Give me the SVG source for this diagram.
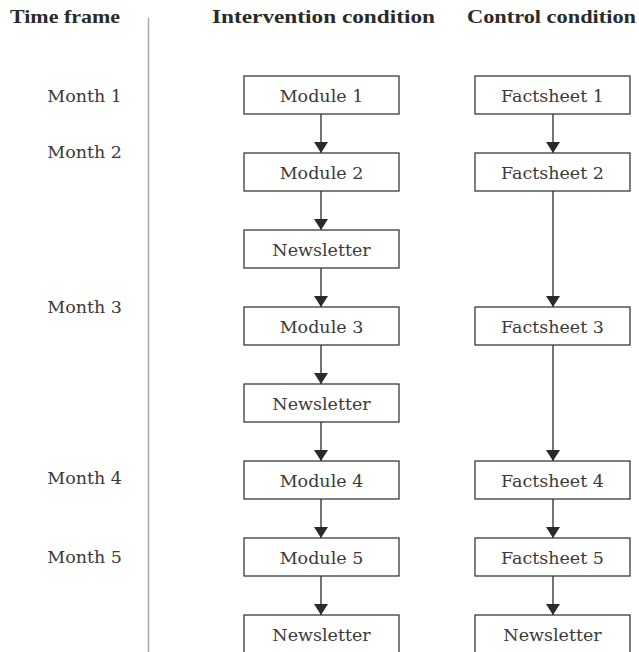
<svg xmlns="http://www.w3.org/2000/svg" width="639" height="652" viewBox="0 0 639 652">
<style>
.hdr{font-family:"Liberation Serif","DejaVu Serif",serif;font-weight:bold;font-size:19.5px;fill:#2a2a2a}
.lbl{font-family:"DejaVu Serif","Liberation Serif",serif;font-size:17.5px;fill:#3a3a3a}
.box rect{fill:#fff;stroke:#3a3a3a;stroke-width:1.3}
.box text{text-anchor:middle}
.mon{text-anchor:end}
.conn line{stroke:#2a2a2a;stroke-width:1.3;marker-end:url(#ah)}
</style>
<defs>
<marker id="ah" markerUnits="userSpaceOnUse" viewBox="0 0 11 14" markerWidth="11" markerHeight="14" refX="11" refY="7" orient="auto">
<path d="M0,0 L11,7 L0,14 z" fill="#2a2a2a"/>
</marker>
</defs>
<rect width="639" height="652" fill="#fff"/>
<g id="headers">
<text class="hdr" x="10" y="23" textLength="110" lengthAdjust="spacingAndGlyphs">Time frame</text>
<text class="hdr" x="212" y="23" textLength="223" lengthAdjust="spacingAndGlyphs">Intervention condition</text>
<text class="hdr" x="467" y="23" textLength="169" lengthAdjust="spacingAndGlyphs">Control condition</text>
</g>
<line id="divider" x1="148.5" y1="18" x2="148.5" y2="652" stroke="#aaaaaa" stroke-width="1.5"/>
<g id="months">
<text class="lbl mon" x="122" y="102">Month 1</text>
<text class="lbl mon" x="122" y="158">Month 2</text>
<text class="lbl mon" x="122" y="313">Month 3</text>
<text class="lbl mon" x="122" y="484">Month 4</text>
<text class="lbl mon" x="122" y="563">Month 5</text>
</g>
<g id="connectors" class="conn">
<line x1="321" y1="114" x2="321" y2="153"/>
<line x1="321" y1="191" x2="321" y2="230"/>
<line x1="321" y1="268" x2="321" y2="307"/>
<line x1="321" y1="345" x2="321" y2="384"/>
<line x1="321" y1="422" x2="321" y2="461"/>
<line x1="321" y1="499" x2="321" y2="538"/>
<line x1="321" y1="576" x2="321" y2="615"/>
<line x1="553" y1="114" x2="553" y2="153"/>
<line x1="553" y1="191" x2="553" y2="307"/>
<line x1="553" y1="345" x2="553" y2="461"/>
<line x1="553" y1="499" x2="553" y2="538"/>
<line x1="553" y1="576" x2="553" y2="615"/>
</g>
<g id="i1" class="box"><rect x="244" y="76" width="155" height="38"/><text class="lbl" x="321.5" y="102">Module 1</text></g>
<g id="i2" class="box"><rect x="244" y="153" width="155" height="38"/><text class="lbl" x="321.5" y="179">Module 2</text></g>
<g id="i3" class="box"><rect x="244" y="230" width="155" height="38"/><text class="lbl" x="321.5" y="256">Newsletter</text></g>
<g id="i4" class="box"><rect x="244" y="307" width="155" height="38"/><text class="lbl" x="321.5" y="333">Module 3</text></g>
<g id="i5" class="box"><rect x="244" y="384" width="155" height="38"/><text class="lbl" x="321.5" y="410">Newsletter</text></g>
<g id="i6" class="box"><rect x="244" y="461" width="155" height="38"/><text class="lbl" x="321.5" y="487">Module 4</text></g>
<g id="i7" class="box"><rect x="244" y="538" width="155" height="38"/><text class="lbl" x="321.5" y="564">Module 5</text></g>
<g id="i8" class="box"><rect x="244" y="615" width="155" height="40"/><text class="lbl" x="321.5" y="641">Newsletter</text></g>
<g id="c1" class="box"><rect x="475" y="76" width="155" height="38"/><text class="lbl" x="552.5" y="102">Factsheet 1</text></g>
<g id="c2" class="box"><rect x="475" y="153" width="155" height="38"/><text class="lbl" x="552.5" y="179">Factsheet 2</text></g>
<g id="c3" class="box"><rect x="475" y="307" width="155" height="38"/><text class="lbl" x="552.5" y="333">Factsheet 3</text></g>
<g id="c4" class="box"><rect x="475" y="461" width="155" height="38"/><text class="lbl" x="552.5" y="487">Factsheet 4</text></g>
<g id="c5" class="box"><rect x="475" y="538" width="155" height="38"/><text class="lbl" x="552.5" y="564">Factsheet 5</text></g>
<g id="c6" class="box"><rect x="475" y="615" width="155" height="40"/><text class="lbl" x="552.5" y="641">Newsletter</text></g>
</svg>
